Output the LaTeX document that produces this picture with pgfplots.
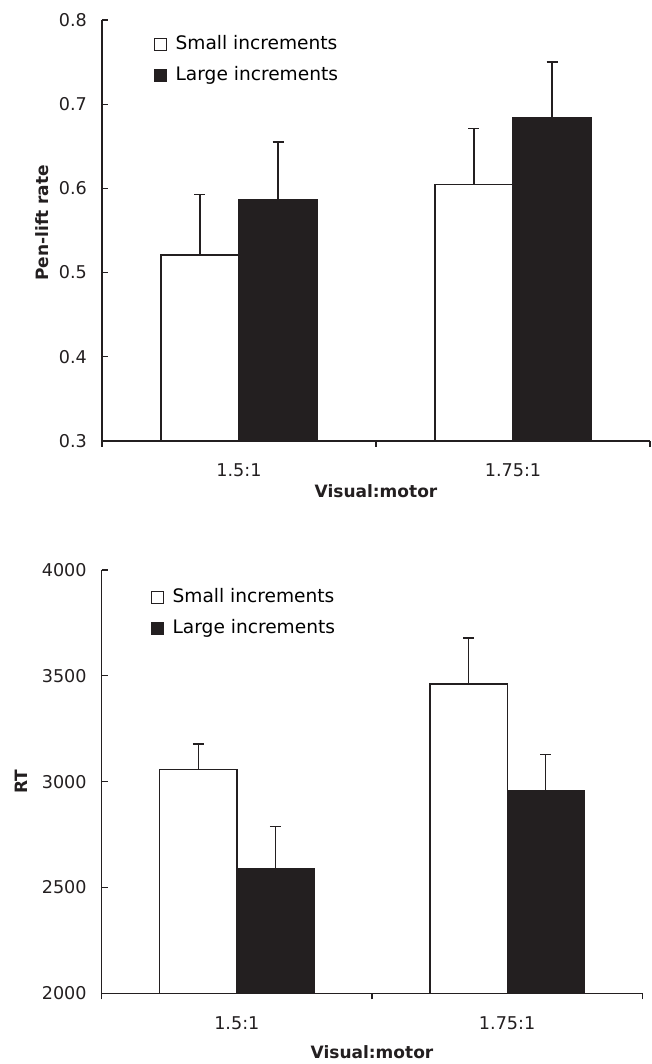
\documentclass[border=0pt]{standalone}
\usepackage{fontspec}
\setmainfont{DejaVu Sans}
\usepackage{pgfplots}
\pgfplotsset{compat=1.18}
\definecolor{barblack}{RGB}{35,31,32}

\pgfplotsset{
 myaxis/.style={
  scale only axis,
  axis x line*=bottom, axis y line*=left,
  axis line style={line width=0.75pt, color=barblack},
  xmin=-0.5, xmax=1.5,
  xtick={-0.5,0.5,1.5}, xticklabels={,,},
  extra x ticks={0,1}, extra x tick labels={1.5:1,1.75:1},
  extra x tick style={major tick length=0pt},
  tick align=inside,
  major tick length=3pt,
  tick style={line width=0.6pt, color=barblack},
  /pgf/number format/assume math mode=true,
  tick label style={font=\fontsize{8.8}{10}\selectfont, color=barblack},
  x tick label style={yshift=-8pt},
  y tick label style={xshift=-4pt},
  label style={font=\bfseries\fontsize{8.5}{10}\selectfont, color=barblack},
  ybar, bar width=0.285,
  legend style={draw=none, fill=none, font=\fontsize{9.3}{11}\selectfont, anchor=north west, inner sep=0pt,
    nodes={inner sep=1pt, text depth=0.25em, text height=0.75em}, row sep=3.6pt},
  legend cell align=left,
 },
 whitebar/.style={fill=white, draw=barblack, line width=0.65pt, bar shift=-0.1425,
   error bars/y dir=plus, error bars/y explicit,
   error bars/error mark=|,
   error bars/error bar style={line width=0.6pt, color=barblack},
   error bars/error mark options={line width=0.6pt, mark size=2.75pt, color=barblack},
   legend image code/.code={\draw[fill=white, draw=barblack, line width=0.5pt] (0pt,-3pt) rectangle (6pt,3pt); \path (9pt,0pt);}},
 blackbar/.style={fill=barblack, draw=barblack, line width=0.65pt, bar shift=0.1425,
   error bars/y dir=plus, error bars/y explicit,
   error bars/error mark=|,
   error bars/error bar style={line width=0.6pt, color=barblack},
   error bars/error mark options={line width=0.6pt, mark size=2.75pt, color=barblack},
   legend image code/.code={\draw[fill=barblack, draw=barblack, line width=0.5pt] (0pt,-3pt) rectangle (6pt,3pt); \path (9pt,0pt);}},
}

\begin{document}
\begin{tikzpicture}
\path[use as bounding box] (0,0) rectangle (326pt,532pt);

\begin{axis}[myaxis,
  at={(51pt,311.5pt)}, anchor=south west,
  width=274pt, height=210.5pt,
  ymin=0.3, ymax=0.8, ytick={0.3,0.4,0.5,0.6,0.7,0.8},
  yticklabel style={/pgf/number format/.cd, fixed, fixed zerofill, precision=1},
  xlabel={Visual:motor}, ylabel={Pen-lift rate},
  xlabel style={at={(axis description cs:0.5,-0.119)}, anchor=center},
  ylabel style={at={(axis description cs:-0.1095,0.518)}, anchor=center},
  legend style={at={(axis description cs:0.095,0.972)}},
]
\addplot[whitebar] coordinates {(0,0.521) +- (0,0.072) (1,0.605) +- (0,0.066)};
\addplot[blackbar] coordinates {(0,0.587) +- (0,0.068) (1,0.684) +- (0,0.066)};
\legend{Small increments, Large increments}
\end{axis}

\begin{axis}[myaxis,
  at={(50.85pt,35.35pt)}, anchor=south west,
  width=270.3pt, height=211.65pt,
  ymin=2000, ymax=4000, ytick={2000,2500,3000,3500,4000},
  yticklabel style={/pgf/number format/1000 sep={}},
  xlabel={Visual:motor}, ylabel={RT},
  xlabel style={at={(axis description cs:0.5,-0.14)}, anchor=center},
  ylabel style={at={(axis description cs:-0.148,0.5)}, anchor=center},
  legend style={at={(axis description cs:0.0913,0.964)}},
]
\addplot[whitebar] coordinates {(0,3057) +- (0,121) (1,3462) +- (0,217)};
\addplot[blackbar] coordinates {(0,2591) +- (0,196) (1,2956) +- (0,174)};
\legend{Small increments, Large increments}
\end{axis}
\end{tikzpicture}
\end{document}
